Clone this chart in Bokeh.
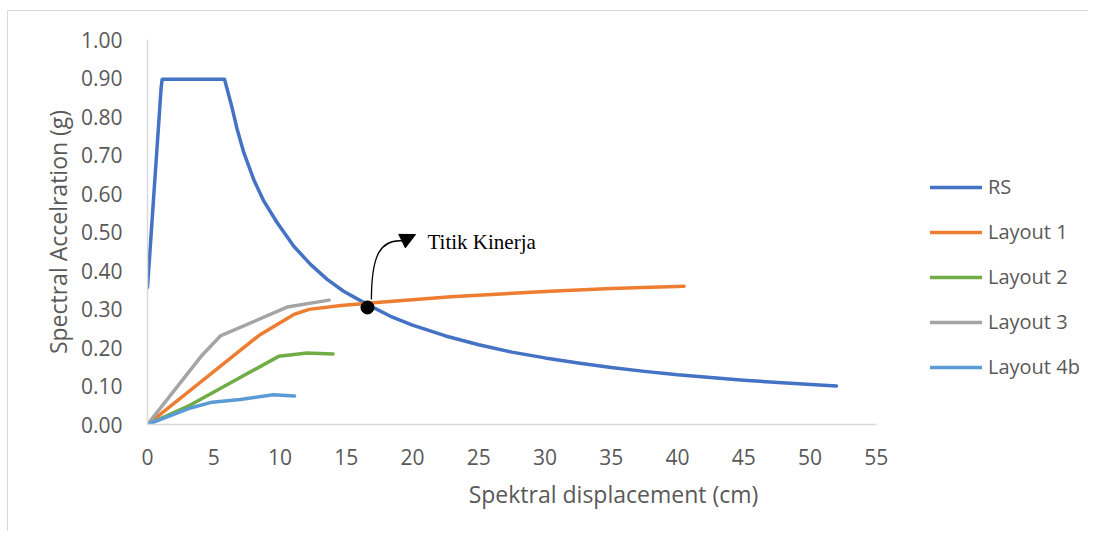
from bokeh.plotting import figure
from bokeh.models import Range1d, Legend, LegendItem, FixedTicker, Label, Arrow, NormalHead, NumeralTickFormatter
from bokeh.core.properties import value
from bokeh.embed import file_html
from bokeh.resources import INLINE

# ---- data ----
rs_x = [0, 1.03, 1.11, 5.81, 6.39, 6.77, 7.27, 8.02, 8.78, 9.79, 11.04, 12.3, 13.56, 14.8,
        16.58, 18.34, 20, 22.5, 25, 27.5, 30, 32.5, 35, 37.5, 40, 42.5, 45, 48.5, 52]
rs_y = [0.356, 0.875, 0.897, 0.897, 0.822, 0.766, 0.706, 0.636, 0.580, 0.524, 0.463, 0.416,
        0.377, 0.346, 0.312, 0.281, 0.258, 0.230, 0.207, 0.188, 0.173, 0.160, 0.148, 0.138, 0.129,
        0.122, 0.115, 0.107, 0.100]

l1_x = [0, 8.4, 11.05, 12.2, 14.6, 17.8, 22.9, 30.4, 35, 40.5]
l1_y = [0, 0.231, 0.286, 0.299, 0.309, 0.318, 0.332, 0.346, 0.353, 0.359]

l2_x = [0, 3.2, 9.9, 12.05, 14.0]
l2_y = [0, 0.05, 0.177, 0.186, 0.183]

l3_x = [0, 4.12, 5.5, 10.54, 13.7]
l3_y = [0, 0.18, 0.23, 0.305, 0.323]

l4_x = [0, 3.25, 4.88, 7.0, 9.5, 11.1]
l4_y = [0, 0.043, 0.058, 0.065, 0.077, 0.074]

pp_x = [16.6]
pp_y = [0.304]

x_ticks = [0, 5, 10, 15, 20, 25, 30, 35, 40, 45, 50, 55]
y_ticks = [0.0, 0.1, 0.2, 0.3, 0.4, 0.5, 0.6, 0.7, 0.8, 0.9, 1.0]

names = ["RS", "Layout 1", "Layout 2", "Layout 3", "Layout 4b"]
colors = ["#4472C4", "#ED7D31", "#70AD47", "#A5A5A5", "#5B9BD5"]

annot_text = "Titik Kinerja"
annot_pos = (21.13, 0.4735)
curve = dict(x0=16.9, y0=0.325, cx0=16.9, cy0=0.442, cx1=17.6, cy1=0.481, x1=19.25, y1=0.477)
head = dict(x_start=19.25, y_start=0.477, x_end=20.23, y_end=0.4935)

# ---- figure ----
FONT = "Open Sans"
GREY = "#595959"

p = figure(width=1081, height=521, output_backend="svg", toolbar_location=None,
           x_range=Range1d(0, 70.34), y_range=Range1d(0, 1),
           min_border_left=139, min_border_right=10, min_border_top=28, min_border_bottom=108)
p.outline_line_color = None
p.grid.visible = False
p.styles = {"margin-left": "7px", "margin-top": "10px",
            "border-left": "1px solid #d9d9d9", "border-top": "1px solid #d9d9d9"}

for ax in (p.xaxis[0], p.yaxis[0]):
    ax.axis_line_color = "#d9d9d9"
    ax.axis_line_width = 1.5
    ax.major_tick_line_color = None
    ax.minor_tick_line_color = None
    ax.major_label_text_font = FONT
    ax.major_label_text_font_size = "21px"
    ax.major_label_text_color = GREY
    ax.axis_label_text_font = FONT
    ax.axis_label_text_font_size = "23px"
    ax.axis_label_text_font_style = "normal"
    ax.axis_label_text_color = GREY

p.xaxis.bounds = (0, 55)
p.xaxis.ticker = FixedTicker(ticks=x_ticks)
p.xaxis.major_label_standoff = 18
p.xaxis.axis_label = "Spektral displacement (cm)"
p.xaxis.axis_label_standoff = 10

p.yaxis.ticker = FixedTicker(ticks=y_ticks)
p.yaxis.formatter = NumeralTickFormatter(format="0.00")
p.yaxis.major_label_standoff = 19
p.yaxis.axis_label = "Spectral Accelration (g)"
p.yaxis.axis_label_standoff = 4

series = [(rs_x, rs_y), (l1_x, l1_y), (l2_x, l2_y), (l3_x, l3_y), (l4_x, l4_y)]
renderers = []
for (xs, ys), c in zip(series, colors):
    r = p.line(xs, ys, line_color=c, line_width=3.5, line_cap="round", line_join="round")
    renderers.append(r)

# performance point and annotation
p.scatter(pp_x, pp_y, size=13, fill_color="black", line_color="black")
p.bezier(x0=[curve["x0"]], y0=[curve["y0"]], x1=[curve["x1"]], y1=[curve["y1"]],
         cx0=[curve["cx0"]], cy0=[curve["cy0"]], cx1=[curve["cx1"]], cy1=[curve["cy1"]],
         line_color="black", line_width=1.3)
p.add_layout(Arrow(end=NormalHead(size=15, fill_color="black", line_color="black"),
                   line_color="black", line_width=1.3, **head))
p.add_layout(Label(x=annot_pos[0], y=annot_pos[1], text=annot_text, text_font="Liberation Serif",
                   text_font_size="21px", text_color="black", text_baseline="alphabetic"))

legend = Legend(items=[LegendItem(label=n, renderers=[r]) for n, r in zip(names, renderers)],
                location=(783, 44), orientation="vertical",
                glyph_width=52, glyph_height=20, label_height=20, spacing=18,
                label_standoff=6, padding=0, margin=0,
                label_text_font=FONT, label_text_font_size="20px", label_text_color=GREY,
                border_line_color=None, background_fill_alpha=0)
p.add_layout(legend)

open("out.html", "w").write(file_html(p, INLINE))
